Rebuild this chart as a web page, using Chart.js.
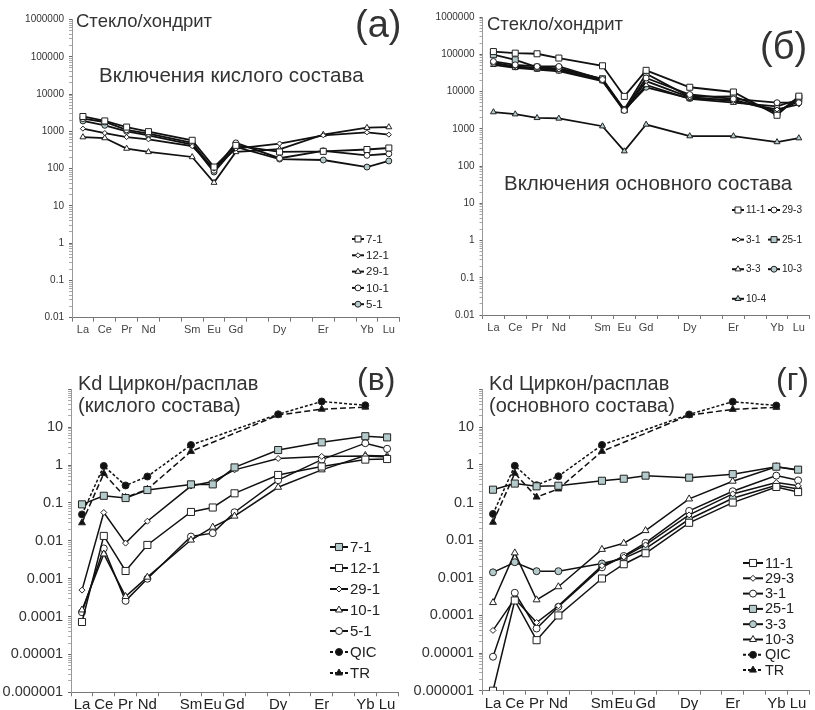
<!DOCTYPE html>
<html>
<head>
<meta charset="utf-8">
<script src="https://cdn.jsdelivr.net/npm/chart.js@4.4.0/dist/chart.umd.min.js"></script>
<style>
    body { margin: 0; width: 815px; height: 710px; position: relative; overflow: hidden; background: #fff;
           font-family: "Liberation Sans", Arial, sans-serif; color: #333; }
    canvas { position: absolute; }
    .t { position: absolute; white-space: nowrap; line-height: 1; }
</style>
</head>
<body>
<canvas id="chart-a" width="405" height="345" style="left:0;top:0;width:405px;height:345px"></canvas>
<canvas id="chart-b" width="410" height="345" style="left:405px;top:0;width:410px;height:345px"></canvas>
<canvas id="chart-v" width="405" height="365" style="left:0;top:345px;width:405px;height:365px"></canvas>
<canvas id="chart-g" width="410" height="365" style="left:405px;top:345px;width:410px;height:365px"></canvas>

<div class="t" style="left:76px;top:12px;font-size:18.5px">Стекло/хондрит</div>
<div class="t" style="left:355px;top:5px;font-size:38px">(а)</div>
<div class="t" style="left:99px;top:65px;font-size:20.5px">Включения кислого состава</div>

<div class="t" style="left:487px;top:15px;font-size:18.5px">Стекло/хондрит</div>
<div class="t" style="left:760px;top:27px;font-size:38px">(б)</div>
<div class="t" style="left:504px;top:173px;font-size:20.5px">Включения основного состава</div>

<div class="t" style="left:78px;top:373px;font-size:20px">Kd Циркон/расплав</div>
<div class="t" style="left:78px;top:395px;font-size:20px">(кислого состава)</div>
<div class="t" style="left:357px;top:363px;font-size:32px">(в)</div>

<div class="t" style="left:489px;top:373px;font-size:20px">Kd Циркон/расплав</div>
<div class="t" style="left:489px;top:395px;font-size:20px">(основного состава)</div>
<div class="t" style="left:776px;top:363px;font-size:32px">(г)</div>

<script>
// REE positions on the x axis (Pm, Tb, Ho, Tm have no data and no label)
const REE = ['La', 'Ce', 'Pr', 'Nd', 'Pm', 'Sm', 'Eu', 'Gd', 'Tb', 'Dy', 'Ho', 'Er', 'Tm', 'Yb', 'Lu'];
const HIDDEN = ['Pm', 'Tb', 'Ho', 'Tm'];
const MEASURED = ['La', 'Ce', 'Pr', 'Nd', 'Sm', 'Eu', 'Gd', 'Dy', 'Er', 'Yb', 'Lu'];

// (а) glass / chondrite, acid inclusions
const A_7_1  = [2500, 1900, 1300, 980, 575, 110, 420, 280, 290, 325, 357];
const A_12_1 = [1180, 900, 700, 610, 400, 100, 345, 470, 780, 940, 815];
const A_29_1 = [700, 660, 345, 280, 205, 42, 280, 330, 815, 1250, 1300];
const A_10_1 = [2200, 1780, 1100, 870, 490, 90, 490, 190, 300, 227, 250];
const A_5_1  = [1900, 1450, 1000, 780, 440, 81, 380, 180, 170, 110, 160];

// (б) glass / chondrite, basic inclusions
const B_11_1 = [118000, 107000, 103000, 79000, 49000, 7400, 37000, 13000, 9700, 2300, 7500];
const B_29_3 = [64000, 52000, 47000, 47000, 21000, 3100, 23000, 8300, 6300, 5000, 5000];
const B_3_1  = [56000, 47000, 43000, 39000, 20000, 3000, 19000, 7000, 5500, 3300, 4500];
const B_25_1 = [97000, 71000, 45000, 42000, 22000, 3300, 30000, 7200, 7400, 2700, 6800];
const B_3_3  = [52000, 43000, 39000, 35000, 19000, 3000, 15000, 6300, 5000, 4000, 6100];
const B_10_3 = [60000, 46000, 41000, 37000, 20000, 3200, 13000, 6500, 6000, 2950, 5500];
const B_10_4 = [2800, 2460, 1960, 1890, 1170, 250, 1300, 635, 635, 440, 560];

// (в) Kd zircon / melt, acid
const V_7_1  = [0.092, 0.155, 0.135, 0.22, 0.31, 0.31, 0.87, 2.5, 4.0, 5.8, 5.4];
const V_12_1 = [0.000072, 0.0135, 0.0016, 0.0078, 0.058, 0.076, 0.18, 0.55, 0.92, 1.4, 1.45];
const V_29_1 = [0.0005, 0.056, 0.0087, 0.033, 0.28, 0.37, 0.75, 1.5, 1.7, 1.75, 1.65];
const V_10_1 = [0.00015, 0.0045, 0.00034, 0.0011, 0.0105, 0.023, 0.045, 0.26, 0.75, 1.8, 1.75];
const V_5_1  = [0.00013, 0.0063, 0.00026, 0.001, 0.013, 0.016, 0.057, 0.4, 1.4, 3.8, 2.7];

// (г) Kd zircon / melt, basic
const G_11_1 = [0.000001, 0.00025, 0.000022, 0.0001, 0.00096, 0.0023, 0.0045, 0.029, 0.1, 0.26, 0.19];
const G_29_3 = [0.00004, 0.00028, 0.000065, 0.00018, 0.0021, 0.0036, 0.0075, 0.047, 0.17, 0.34, 0.28];
const G_3_1  = [0.000008, 0.0004, 0.000045, 0.00017, 0.0019, 0.0038, 0.0085, 0.06, 0.2, 0.52, 0.39];
const G_25_1 = [0.22, 0.32, 0.27, 0.28, 0.38, 0.43, 0.52, 0.46, 0.57, 0.9, 0.75];
const G_3_3  = [0.0014, 0.0026, 0.0015, 0.0015, 0.0024, 0.0033, 0.006, 0.036, 0.13, 0.29, 0.23];
const G_10_3 = [0.00022, 0.0046, 0.00026, 0.00058, 0.0057, 0.0083, 0.018, 0.125, 0.37, 0.9, 0.72];

// literature Kd (same in (в) and (г)); null = not given
const QIC = [0.05, 0.95, 0.29, 0.5, 3.4, null, null, 22, 48, 38, null];
const TR  = [0.03, 0.6, 0.14, 0.23, 2.3, null, null, 21, 30, 34, null];

const GREY = '#b5cbcb';
const INK = '#111';

// marker shapes
const SHAPES = {
    square:   { pointStyle: 'rect', r: 5 },
    diamond:  { pointStyle: 'rectRot', r: 3 },
    triangle: { pointStyle: 'triangle', r: 4 },
    circle:   { pointStyle: 'circle', r: 3.5 }
};

function series(label, values, shape, fill, opts = {}) {
    const s = SHAPES[shape];
    const k = opts.scale || 1;
    return {
        label,
        data: MEASURED.map((el, i) => ({ x: el, y: values[i] })).filter(p => p.y != null),
        borderColor: INK,
        borderWidth: opts.width || 1.5,
        borderDash: opts.dash || [],
        pointStyle: s.pointStyle,
        pointRadius: s.r * k,
        pointBackgroundColor: fill,
        pointBorderColor: '#222',
        pointBorderWidth: 1,
        tension: 0,
        spanGaps: true
    };
}

function powerLabel(value, maxShown) {
    const e = Math.log10(value);
    const r = Math.round(e);
    if (Math.abs(e - r) > 1e-6 || r > maxShown) return '';
    return r < 0 ? Math.pow(10, r).toFixed(-r) : String(Math.pow(10, r));
}

// Legend drawn inside the plot area, Excel style
const panelLegend = {
    id: 'panelLegend',
    afterDraw(chart, args, o) {
        const { ctx } = chart;
        ctx.save();
        chart.data.datasets.forEach((ds, i) => {
            const col = i % o.cols;
            const row = Math.floor(i / o.cols);
            const x = o.x + col * o.colW;
            const y = o.y + row * o.rowH;
            ctx.strokeStyle = ds.borderColor;
            ctx.lineWidth = 2;
            ctx.setLineDash(ds.borderDash.length ? [3, 2] : []);
            ctx.beginPath();
            ctx.moveTo(x, y);
            ctx.lineTo(x + o.lineW, y);
            ctx.stroke();
            ctx.setLineDash([]);
            ctx.fillStyle = ds.pointBackgroundColor;
            ctx.strokeStyle = ds.pointBorderColor;
            ctx.lineWidth = 1;
            Chart.helpers.drawPoint(ctx, {
                pointStyle: ds.pointStyle, radius: ds.pointRadius, rotation: 0, borderWidth: 1
            }, x + o.lineW / 2, y);
            ctx.fillStyle = '#222';
            ctx.font = o.font + 'px "Liberation Sans", Arial, sans-serif';
            ctx.textBaseline = 'middle';
            ctx.textAlign = 'left';
            ctx.fillText(ds.label, x + o.lineW + 2, y + 0.5);
        });
        ctx.restore();
    }
};

function makePanel(id, datasets, p) {
    const minExp = Math.round(Math.log10(p.yMin));
    const maxExp = Math.round(Math.log10(p.yMax));
    return new Chart(document.getElementById(id), {
        type: 'line',
        data: { labels: REE, datasets },
        plugins: [panelLegend],
        options: {
            responsive: false,
            animation: false,
            layout: { padding: { left: 0, right: p.padRight, top: p.top, bottom: 0 } },
            plugins: {
                legend: { display: false },
                tooltip: { enabled: false },
                panelLegend: p.legend
            },
            scales: {
                x: {
                    type: 'category',
                    offset: true,
                    afterFit: (scale) => { scale.height = p.xHeight; },
                    border: { color: '#777', width: 1 },
                    grid: { offset: true, drawOnChartArea: false, tickLength: 4, color: '#777' },
                    ticks: {
                        autoSkip: false,
                        maxRotation: 0,
                        padding: p.xPad,
                        color: p.xColor,
                        font: { family: '"Liberation Sans", Arial, sans-serif', size: p.xFont },
                        callback: function (value) {
                            const lab = this.getLabelForValue(value);
                            return HIDDEN.includes(lab) ? '' : lab;
                        }
                    }
                },
                y: {
                    type: 'logarithmic',
                    min: p.yMin,
                    max: p.yMax,
                    afterFit: (scale) => { scale.width = p.yWidth; },
                    afterBuildTicks: (scale) => {
                        const ticks = [];
                        for (let e = minExp; e <= maxExp; e++) {
                            for (let k = 1; k <= 9; k++) {
                                const v = Number((k * Math.pow(10, e)).toPrecision(12));
                                if (v > p.yMax) break;
                                ticks.push({ value: v, major: k === 1 });
                            }
                        }
                        scale.ticks = ticks;
                    },
                    border: { color: '#999', width: 1 },
                    grid: {
                        drawOnChartArea: false,
                        tickLength: 3,
                        tickColor: (c) => (c.tick && c.tick.major ? '#666' : '#aaa')
                    },
                    ticks: {
                        autoSkip: false,
                        padding: p.yPad,
                        color: '#333',
                        font: { family: '"Liberation Sans", Arial, sans-serif', size: p.yFont },
                        callback: (value) => powerLabel(value, p.maxLabelExp)
                    }
                }
            }
        }
    });
}

const TOP = { scale: 0.85, width: 1.8 };
const BOT = { scale: 1, width: 1.5 };

makePanel('chart-a', [
    series('7-1', A_7_1, 'square', '#fff', TOP),
    series('12-1', A_12_1, 'diamond', '#fff', TOP),
    series('29-1', A_29_1, 'triangle', '#fff', TOP),
    series('10-1', A_10_1, 'circle', '#fff', TOP),
    series('5-1', A_5_1, 'circle', GREY, TOP)
], {
    yMin: 0.01, yMax: 1000000, maxLabelExp: 6,
    top: 19.5, padRight: 5, yWidth: 72, xHeight: 27.3,
    xFont: 11, xColor: '#444', xPad: 2, yFont: 10, yPad: 5,
    legend: { x: 352, y: 239, cols: 1, colW: 0, rowH: 16.3, lineW: 12, font: 11.5 }
});

makePanel('chart-b', [
    series('11-1', B_11_1, 'square', '#fff', TOP),
    series('29-3', B_29_3, 'circle', '#fff', TOP),
    series('3-1', B_3_1, 'diamond', '#fff', TOP),
    series('25-1', B_25_1, 'square', GREY, TOP),
    series('3-3', B_3_3, 'triangle', '#fff', TOP),
    series('10-3', B_10_3, 'circle', GREY, TOP),
    series('10-4', B_10_4, 'triangle', GREY, TOP)
], {
    yMin: 0.01, yMax: 1000000, maxLabelExp: 6,
    top: 17, padRight: 3.3, yWidth: 77.5, xHeight: 30,
    xFont: 11, xColor: '#444', xPad: 2, yFont: 10, yPad: 5,
    legend: { x: 327, y: 210, cols: 2, colW: 36, rowH: 29.6, lineW: 12, font: 10 }
});

makePanel('chart-v', [
    series('7-1', V_7_1, 'square', GREY, BOT),
    series('12-1', V_12_1, 'square', '#fff', BOT),
    series('29-1', V_29_1, 'diamond', '#fff', BOT),
    series('10-1', V_10_1, 'triangle', '#fff', BOT),
    series('5-1', V_5_1, 'circle', '#fff', BOT),
    series('QIC', QIC, 'circle', INK, { width: 1.5, dash: [3, 2] }),
    series('TR', TR, 'triangle', INK, { width: 1.5, dash: [6, 3] })
], {
    yMin: 0.000001, yMax: 100, maxLabelExp: 1,
    top: 44.4, padRight: 7, yWidth: 71.1, xHeight: 17.7,
    xFont: 15, xColor: '#222', xPad: 0, yFont: 14.5, yPad: 5,
    legend: { x: 330, y: 202, cols: 1, colW: 0, rowH: 21, lineW: 18, font: 15 }
});

makePanel('chart-g', [
    series('11-1', G_11_1, 'square', '#fff', BOT),
    series('29-3', G_29_3, 'diamond', '#fff', BOT),
    series('3-1', G_3_1, 'circle', '#fff', BOT),
    series('25-1', G_25_1, 'square', GREY, BOT),
    series('3-3', G_3_3, 'circle', GREY, BOT),
    series('10-3', G_10_3, 'triangle', '#fff', BOT),
    series('QIC', QIC, 'circle', INK, { width: 1.5, dash: [3, 2] }),
    series('TR', TR, 'triangle', INK, { width: 1.5, dash: [6, 3] })
], {
    yMin: 0.000001, yMax: 100, maxLabelExp: 1,
    top: 44.7, padRight: 5.9, yWidth: 77.1, xHeight: 19.3,
    xFont: 15, xColor: '#222', xPad: 0, yFont: 14.5, yPad: 5,
    legend: { x: 338, y: 218, cols: 1, colW: 0, rowH: 15.3, lineW: 20, font: 14.5 }
});
</script>
</body>
</html>
